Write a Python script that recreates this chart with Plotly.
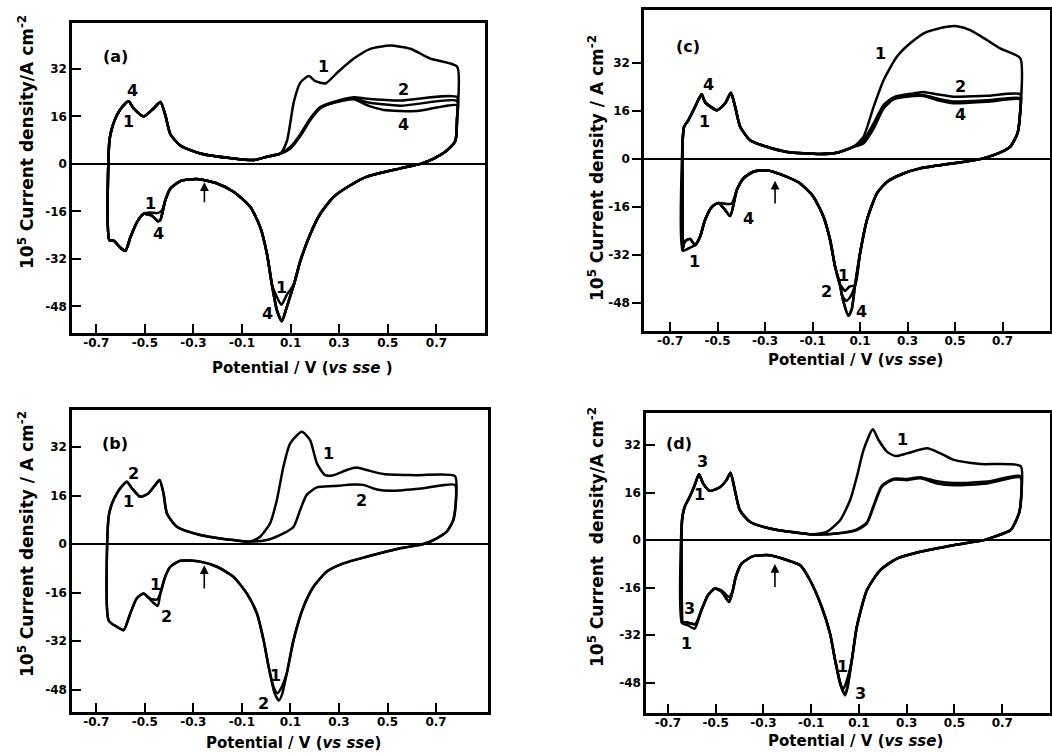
import plotly.graph_objects as go

W, H = 1052, 753
FONT = "DejaVu Sans"

# ---------------- panel (a) ----------------
a_left_up_x = [-0.646, -0.646, -0.635, -0.615, -0.587, -0.567, -0.546, -0.505, -0.464, -0.436, -0.416, -0.395, -0.354, -0.272, -0.135, -0.052, 0.003, 0.058]
a_left_up_y = [-25.7, 7.8, 12.2, 16.5, 19.8, 21.1, 18.7, 16.0, 18.7, 20.9, 16.5, 10.0, 6.2, 3.5, 1.8, 1.3, 2.4, 3.5]
a_up1_x = [0.085, 0.113, 0.14, 0.174, 0.202, 0.243, 0.291, 0.36, 0.428, 0.51, 0.593, 0.675, 0.785]
a_up1_y = [7.8, 20.9, 27.4, 29.6, 27.9, 27.1, 30.7, 35.5, 38.8, 39.9, 38.8, 35.5, 32.8]
a_up2_x = [0.099, 0.14, 0.181, 0.222, 0.277, 0.36, 0.414, 0.552, 0.785]
a_up2_y = [5.7, 10.0, 15.4, 19.2, 20.9, 22.5, 22.0, 21.4, 22.5]
a_up3_x = [0.099, 0.14, 0.181, 0.222, 0.277, 0.36, 0.414, 0.552, 0.785]
a_up3_y = [5.4, 9.7, 15.0, 19.0, 20.7, 22.1, 20.8, 19.6, 21.2]
a_up4_x = [0.099, 0.14, 0.181, 0.222, 0.277, 0.36, 0.414, 0.483, 0.62, 0.785]
a_up4_y = [5.2, 9.4, 14.8, 18.8, 20.6, 21.8, 19.8, 18.2, 17.8, 19.8]
a_rev_right_x = [0.785, 0.778, 0.744, 0.689, 0.634, 0.552, 0.414, 0.346, 0.277, 0.222, 0.181, 0.14, 0.113]
a_rev_right_y = [15.4, 7.8, 4.6, 1.8, 0.0, -1.5, -4.3, -7.2, -11.1, -16.8, -23.6, -32.7, -40.7]
a_pk1_x = [0.085, 0.062, 0.044]
a_pk1_y = [-44.0, -47.5, -45.0]
a_pk4_x = [0.085, 0.064, 0.044]
a_pk4_y = [-48.0, -53.0, -49.5]
a_rev_mid_x = [0.023, 0.003, -0.025, -0.066, -0.135, -0.203, -0.286, -0.354, -0.395, -0.416]
a_rev_mid_y = [-40.7, -30.5, -21.4, -14.5, -9.4, -6.6, -5.1, -5.8, -8.3, -12.3]
a_lr1_x = [-0.43, -0.45, -0.478]
a_lr1_y = [-15.7, -16.6, -16.4]
a_lr4_x = [-0.436, -0.447, -0.47]
a_lr4_y = [-18.8, -19.3, -17.5]
a_rev_left_x = [-0.505, -0.533, -0.56, -0.58, -0.601, -0.629, -0.646]
a_rev_left_y = [-16.8, -19.7, -24.8, -29.3, -28.2, -25.9, -25.7]

# ---------------- panel (b) ----------------
b_left_up_x = [-0.649, -0.649, -0.635, -0.615, -0.594, -0.574, -0.553, -0.519, -0.485, -0.457, -0.439, -0.423, -0.409, -0.368, -0.272, -0.135, -0.066]
b_left_up_y = [-25.2, 9.0, 13.4, 16.7, 19.1, 20.5, 18.4, 15.6, 16.7, 19.5, 21.1, 16.7, 10.1, 5.7, 3.0, 1.3, 0.8]
b_up1_x = [-0.025, 0.016, 0.044, 0.071, 0.099, 0.147, 0.181, 0.209, 0.243, 0.277, 0.332, 0.373, 0.414, 0.483, 0.62, 0.778]
b_up1_y = [2.4, 6.8, 14.5, 25.5, 33.2, 37.0, 34.3, 26.6, 22.7, 22.7, 24.4, 25.2, 24.4, 23.1, 22.7, 22.4]
b_up2_x = [0.003, 0.071, 0.113, 0.14, 0.167, 0.209, 0.277, 0.36, 0.401, 0.456, 0.524, 0.648, 0.778]
b_up2_y = [1.3, 3.5, 5.7, 11.2, 16.2, 18.7, 19.1, 19.6, 19.5, 18.0, 17.6, 18.4, 19.5]
b_rev_right_x = [0.782, 0.771, 0.744, 0.689, 0.648, 0.552, 0.414, 0.318, 0.25, 0.195, 0.154, 0.113, 0.085]
b_rev_right_y = [14.5, 7.9, 4.1, 1.3, 0.0, -1.4, -4.2, -6.4, -9.1, -14.1, -20.7, -31.6, -42.6]
b_pk1_x = [0.062, 0.046, 0.032]
b_pk1_y = [-47.5, -49.2, -47.5]
b_pk2_x = [0.066, 0.052, 0.034]
b_pk2_y = [-49.5, -51.6, -49.0]
b_rev_mid_x = [0.01, -0.011, -0.038, -0.08, -0.135, -0.203, -0.272, -0.354, -0.395, -0.416, -0.436]
b_rev_mid_y = [-40.4, -31.6, -22.9, -16.3, -10.8, -7.5, -5.8, -5.5, -7.5, -10.8, -16.3]
b_lr1_x = [-0.449, -0.478]
b_lr1_y = [-18.3, -18.0]
b_lr2_x = [-0.447, -0.47]
b_lr2_y = [-20.4, -19.0]
b_rev_left_x = [-0.505, -0.533, -0.56, -0.587, -0.615, -0.649]
b_rev_left_y = [-16.3, -17.9, -22.9, -28.4, -27.3, -25.2]

# ---------------- panel (c) ----------------
c_left_up_x = [-0.647, -0.647, -0.641, -0.623, -0.602, -0.581, -0.567, -0.553, -0.503, -0.468, -0.444, -0.426, -0.405, -0.363, -0.293, -0.208, -0.068, 0.002, 0.072]
c_left_up_y = [-30.5, 6.3, 10.8, 13.0, 16.3, 19.7, 21.6, 19.0, 16.3, 18.6, 22.1, 17.4, 10.8, 6.3, 4.1, 2.4, 1.7, 2.1, 4.1]
c_up1_x = [0.114, 0.157, 0.199, 0.255, 0.311, 0.381, 0.466, 0.508, 0.564, 0.634, 0.69, 0.775]
c_up1_y = [7.4, 17.4, 26.3, 34.1, 38.6, 42.4, 44.1, 44.3, 43.0, 39.7, 36.9, 33.6]
c_up2_x = [0.114, 0.157, 0.199, 0.241, 0.325, 0.367, 0.423, 0.494, 0.634, 0.775]
c_up2_y = [6.3, 11.9, 18.0, 20.6, 21.9, 22.4, 21.6, 20.8, 21.1, 21.6]
c_up3_x = [0.114, 0.157, 0.199, 0.241, 0.325, 0.367, 0.423, 0.494, 0.634, 0.775]
c_up3_y = [5.6, 10.8, 17.3, 20.1, 21.3, 21.4, 20.2, 19.2, 19.6, 20.3]
c_up4_x = [0.114, 0.157, 0.199, 0.241, 0.325, 0.367, 0.423, 0.494, 0.634, 0.775]
c_up4_y = [5.2, 10.2, 16.9, 19.9, 21.0, 21.0, 19.7, 18.6, 19.1, 19.9]
c_rev_right_x = [0.775, 0.763, 0.732, 0.662, 0.606, 0.494, 0.353, 0.283, 0.213, 0.171, 0.129, 0.1, 0.079]
c_rev_right_y = [16.3, 8.6, 4.1, 1.3, 0.0, -1.4, -3.1, -4.8, -7.6, -11.4, -20.3, -31.4, -42.0]
c_pk1_x = [0.055, 0.037, 0.022]
c_pk1_y = [-42.5, -43.9, -42.5]
c_pk2_x = [0.058, 0.042, 0.024]
c_pk2_y = [-46.0, -47.2, -45.5]
c_pk4_x = [0.065, 0.051, 0.03]
c_pk4_y = [-50.0, -52.2, -47.5]
c_rev_mid_x = [0.016, -0.005, -0.026, -0.054, -0.096, -0.152, -0.208, -0.293, -0.349, -0.391, -0.419]
c_rev_mid_y = [-42.0, -35.9, -27.0, -19.2, -12.6, -8.1, -5.9, -3.7, -4.2, -6.4, -10.3]
c_lr1_x = [-0.44, -0.461]
c_lr1_y = [-14.8, -15.0]
c_lr4_x = [-0.447, -0.468]
c_lr4_y = [-19.0, -17.0]
c_rev_left_x = [-0.496, -0.524, -0.553, -0.574, -0.595]
c_rev_left_y = [-14.6, -15.9, -20.3, -25.9, -28.7]
c_ll1_x = [-0.623, -0.647]
c_ll1_y = [-29.8, -30.5]
c_ll4_x = [-0.616, -0.637, -0.647]
c_ll4_y = [-26.6, -27.3, -30.0]

# ---------------- panel (d) ----------------
d_left_up_x = [-0.641, -0.641, -0.63, -0.609, -0.588, -0.57, -0.553, -0.525, -0.483, -0.455, -0.438, -0.42, -0.399, -0.357, -0.273, -0.133, -0.091]
d_left_up_y = [-27.9, 6.7, 11.2, 14.6, 18.5, 22.2, 19.1, 16.6, 17.8, 20.2, 22.7, 16.9, 10.1, 6.2, 3.9, 2.2, 1.9]
d_up1_x = [-0.035, 0.021, 0.063, 0.091, 0.119, 0.158, 0.182, 0.217, 0.252, 0.301, 0.385, 0.441, 0.497, 0.609, 0.777]
d_up1_y = [2.8, 6.7, 13.5, 21.3, 30.3, 37.3, 33.7, 29.8, 28.3, 29.2, 30.9, 29.2, 27.0, 25.6, 24.9]
d_up2_x = [0.007, 0.091, 0.133, 0.161, 0.196, 0.245, 0.301, 0.357, 0.427, 0.497, 0.637, 0.777]
d_up2_y = [2.2, 3.6, 5.9, 11.6, 18.4, 20.7, 20.6, 21.2, 19.8, 19.2, 19.7, 21.6]
d_up3_x = [0.007, 0.091, 0.133, 0.161, 0.196, 0.245, 0.301, 0.357, 0.427, 0.497, 0.637, 0.777]
d_up3_y = [2.2, 3.4, 5.6, 11.2, 18.0, 20.4, 20.2, 20.8, 19.1, 18.5, 19.1, 21.1]
d_rev_right_x = [0.78, 0.77, 0.735, 0.665, 0.623, 0.497, 0.357, 0.259, 0.189, 0.133, 0.091, 0.07]
d_rev_right_y = [15.7, 9.0, 3.4, 1.1, 0.0, -1.7, -3.9, -6.2, -10.1, -16.9, -29.2, -40.4]
d_pk1_x = [0.048, 0.035, 0.022]
d_pk1_y = [-47.5, -50.0, -48.5]
d_pk3_x = [0.052, 0.042, 0.026]
d_pk3_y = [-49.5, -52.2, -49.5]
d_rev_mid_x = [0.0, -0.021, -0.056, -0.105, -0.147, -0.203, -0.273, -0.343, -0.392, -0.416, -0.43]
d_rev_mid_y = [-40.4, -31.5, -22.5, -13.5, -8.4, -6.7, -5.1, -5.4, -7.9, -12.4, -17.4]
d_lr1_x = [-0.444, -0.476]
d_lr1_y = [-19.1, -16.9]
d_lr3_x = [-0.444, -0.476]
d_lr3_y = [-20.8, -17.3]
d_rev_left_x = [-0.504, -0.532, -0.56]
d_rev_left_y = [-16.3, -18.5, -23.6]
d_ll1_x = [-0.588, -0.616, -0.641]
d_ll1_y = [-29.8, -28.7, -27.9]
d_ll3_x = [-0.585, -0.616, -0.641]
d_ll3_y = [-28.3, -27.8, -27.6]

# ticks
x_tick_vals = [-0.7, -0.5, -0.3, -0.1, 0.1, 0.3, 0.5, 0.7]
x_tick_text = ["-0.7", "-0.5", "-0.3", "-0.1", "0.1", "0.3", "0.5", "0.7"]
y_tick_vals = [32, 16, 0, -16, -32, -48]
y_tick_text = ["32", "16", "0", "-16", "-32", "-48"]


def loop(*parts):
    xs, ys = [], []
    for px, py in parts:
        xs += px
        ys += py
    return xs, ys


panels = {
    "a": [
        loop((a_left_up_x, a_left_up_y), (a_up1_x, a_up1_y), (a_rev_right_x, a_rev_right_y), (a_pk1_x, a_pk1_y), (a_rev_mid_x, a_rev_mid_y), (a_lr1_x, a_lr1_y), (a_rev_left_x, a_rev_left_y)),
        loop((a_left_up_x, a_left_up_y), (a_up2_x, a_up2_y), (a_rev_right_x, a_rev_right_y), (a_pk4_x, a_pk4_y), (a_rev_mid_x, a_rev_mid_y), (a_lr4_x, a_lr4_y), (a_rev_left_x, a_rev_left_y)),
        loop((a_left_up_x, a_left_up_y), (a_up3_x, a_up3_y), (a_rev_right_x, a_rev_right_y), (a_pk4_x, a_pk4_y), (a_rev_mid_x, a_rev_mid_y), (a_lr4_x, a_lr4_y), (a_rev_left_x, a_rev_left_y)),
        loop((a_left_up_x, a_left_up_y), (a_up4_x, a_up4_y), (a_rev_right_x, a_rev_right_y), (a_pk4_x, a_pk4_y), (a_rev_mid_x, a_rev_mid_y), (a_lr4_x, a_lr4_y), (a_rev_left_x, a_rev_left_y)),
    ],
    "b": [
        loop((b_left_up_x, b_left_up_y), (b_up1_x, b_up1_y), (b_rev_right_x, b_rev_right_y), (b_pk1_x, b_pk1_y), (b_rev_mid_x, b_rev_mid_y), (b_lr1_x, b_lr1_y), (b_rev_left_x, b_rev_left_y)),
        loop((b_left_up_x, b_left_up_y), (b_up2_x, b_up2_y), (b_rev_right_x, b_rev_right_y), (b_pk2_x, b_pk2_y), (b_rev_mid_x, b_rev_mid_y), (b_lr2_x, b_lr2_y), (b_rev_left_x, b_rev_left_y)),
    ],
    "c": [
        loop((c_left_up_x, c_left_up_y), (c_up1_x, c_up1_y), (c_rev_right_x, c_rev_right_y), (c_pk1_x, c_pk1_y), (c_rev_mid_x, c_rev_mid_y), (c_lr1_x, c_lr1_y), (c_rev_left_x, c_rev_left_y), (c_ll1_x, c_ll1_y)),
        loop((c_left_up_x, c_left_up_y), (c_up2_x, c_up2_y), (c_rev_right_x, c_rev_right_y), (c_pk2_x, c_pk2_y), (c_rev_mid_x, c_rev_mid_y), (c_lr4_x, c_lr4_y), (c_rev_left_x, c_rev_left_y), (c_ll4_x, c_ll4_y)),
        loop((c_left_up_x, c_left_up_y), (c_up3_x, c_up3_y), (c_rev_right_x, c_rev_right_y), (c_pk4_x, c_pk4_y), (c_rev_mid_x, c_rev_mid_y), (c_lr4_x, c_lr4_y), (c_rev_left_x, c_rev_left_y), (c_ll4_x, c_ll4_y)),
        loop((c_left_up_x, c_left_up_y), (c_up4_x, c_up4_y), (c_rev_right_x, c_rev_right_y), (c_pk4_x, c_pk4_y), (c_rev_mid_x, c_rev_mid_y), (c_lr4_x, c_lr4_y), (c_rev_left_x, c_rev_left_y), (c_ll4_x, c_ll4_y)),
    ],
    "d": [
        loop((d_left_up_x, d_left_up_y), (d_up1_x, d_up1_y), (d_rev_right_x, d_rev_right_y), (d_pk1_x, d_pk1_y), (d_rev_mid_x, d_rev_mid_y), (d_lr1_x, d_lr1_y), (d_rev_left_x, d_rev_left_y), (d_ll1_x, d_ll1_y)),
        loop((d_left_up_x, d_left_up_y), (d_up2_x, d_up2_y), (d_rev_right_x, d_rev_right_y), (d_pk3_x, d_pk3_y), (d_rev_mid_x, d_rev_mid_y), (d_lr3_x, d_lr3_y), (d_rev_left_x, d_rev_left_y), (d_ll3_x, d_ll3_y)),
        loop((d_left_up_x, d_left_up_y), (d_up3_x, d_up3_y), (d_rev_right_x, d_rev_right_y), (d_pk3_x, d_pk3_y), (d_rev_mid_x, d_rev_mid_y), (d_lr3_x, d_lr3_y), (d_rev_left_x, d_rev_left_y), (d_ll3_x, d_ll3_y)),
    ],
}

# layout geometry in pixels: left, right, top, bottom ; ranges
geom = {
    "a": dict(px=(72, 485, 23, 333), xr=[-0.80, 0.90], yr=[-57.0, 47.5], ax="x", ay="y", yticks="inside"),
    "b": dict(px=(72, 488, 410, 712), xr=[-0.80, 0.914], yr=[-55.4, 44.2], ax="x2", ay="y2", yticks="inside"),
    "c": dict(px=(644, 1050, 10, 331), xr=[-0.81, 0.90], yr=[-57.3, 49.7], ax="x3", ay="y3", yticks="outside"),
    "d": dict(px=(646, 1050, 413, 713), xr=[-0.792, 0.90], yr=[-58.2, 42.8], ax="x4", ay="y4", yticks="inside"),
}

fig = go.Figure()
layout = dict(
    width=W, height=H, margin=dict(l=0, r=0, t=0, b=0),
    paper_bgcolor="white", plot_bgcolor="white", showlegend=False,
    font=dict(family=FONT, color="black"),
)

TICKFONT = dict(family=FONT, size=12, color="black", weight="bold")

for key, g in geom.items():
    for xs, ys in panels[key]:
        fig.add_trace(go.Scatter(
            x=xs, y=ys, mode="lines", xaxis=g["ax"], yaxis=g["ay"],
            line=dict(color="black", width=2.5, shape="spline", smoothing=0.6),
            hoverinfo="skip",
        ))
    l, r, t, b = g["px"]
    xname = "xaxis" + g["ax"][1:]
    yname = "yaxis" + g["ay"][1:]
    layout[xname] = dict(
        domain=[l / W, r / W], range=g["xr"], anchor=g["ay"],
        showline=True, mirror=True, linecolor="black", linewidth=2.5,
        ticks="inside", ticklen=9, tickwidth=1.6, tickcolor="black",
        tickvals=x_tick_vals, ticktext=x_tick_text, tickfont=TICKFONT,
        ticklabelstandoff=-3,
        showgrid=False, zeroline=False, fixedrange=True,
    )
    layout[yname] = dict(
        domain=[1 - b / H, 1 - t / H], range=g["yr"], anchor=g["ax"],
        showline=True, mirror=True, linecolor="black", linewidth=2.5,
        ticks=g["yticks"], ticklen=9, tickwidth=1.6, tickcolor="black",
        tickvals=y_tick_vals, ticktext=y_tick_text, tickfont=TICKFONT,
        showgrid=False, zeroline=True, zerolinecolor="black", zerolinewidth=1.8,
        fixedrange=True,
    )

fig.update_layout(**layout)

# curve labels: (panel, text, x, y)
label_panel = ["a", "a", "a", "a", "a", "a", "a", "a", "a",
               "b", "b", "b", "b", "b", "b", "b", "b",
               "c", "c", "c", "c", "c", "c", "c", "c", "c", "c",
               "d", "d", "d", "d", "d", "d", "d"]
label_text = ["1", "2", "4", "4", "1", "1", "4", "1", "4",
              "1", "2", "2", "1", "1", "2", "1", "2",
              "1", "2", "4", "4", "1", "4", "1", "1", "2", "4",
              "1", "3", "1", "3", "1", "1", "3"]
label_x = [0.236, 0.565, 0.565, -0.553, -0.567, -0.478, -0.443, 0.064, 0.003,
           0.257, 0.394, -0.546, -0.567, -0.457, -0.409, 0.037, -0.011,
           0.185, 0.522, 0.522, -0.539, -0.555, -0.37, -0.599, 0.03, -0.043, 0.107,
           0.284, -0.556, -0.567, -0.609, -0.623, 0.032, 0.105]
label_y = [32.8, 25.2, 13.3, 24.7, 14.3, -13.4, -23.6, -41.8, -50.3,
           29.9, 14.5, 23.3, 14.0, -13.5, -24.0, -43.2, -52.5,
           35.2, 24.3, 14.7, 24.7, 12.4, -19.8, -34.2, -38.7, -44.2, -50.9,
           33.9, 26.4, 15.2, -23.0, -34.8, -42.7, -51.7]

panel_titles = {"a": ("(a)", -0.622, 36.3), "b": ("(b)", -0.622, 33.2),
                "c": ("(c)", -0.623, 37.4), "d": ("(d)", -0.652, 32.6)}
arrow_x = {"a": -0.255, "b": -0.255, "c": -0.258, "d": -0.252}
arrow_y0 = {"a": -13.4, "b": -15.2, "c": -15.3, "d": -16.3}
arrow_y1 = {"a": -6.2, "b": -7.0, "c": -7.2, "d": -8.0}

LABFONT = dict(family=FONT, size=16, color="black", weight="bold")
ann = []
for p, t, x, y in zip(label_panel, label_text, label_x, label_y):
    g = geom[p]
    ann.append(dict(text=t, x=x, y=y, xref=g["ax"], yref=g["ay"], showarrow=False, font=LABFONT))
for p, (t, x, y) in panel_titles.items():
    g = geom[p]
    ann.append(dict(text=t, x=x, y=y, xref=g["ax"], yref=g["ay"], showarrow=False, font=LABFONT))
for p in geom:
    g = geom[p]
    ann.append(dict(text="", x=arrow_x[p], y=arrow_y1[p], xref=g["ax"], yref=g["ay"],
                    ax=arrow_x[p], ay=arrow_y0[p], axref=g["ax"], ayref=g["ay"],
                    showarrow=True, arrowhead=2, arrowsize=1.1, arrowwidth=1.6, arrowcolor="black"))

# axis titles (pixel positions)
ytitle = {"a": (26, 142, "10<sup>5</sup> Current density/A cm<sup>-2</sup>"),
          "b": (26, 544, "10<sup>5</sup> Current density / A cm<sup>-2</sup>"),
          "c": (596, 168, "10<sup>5</sup> Current density / A cm<sup>-2</sup>"),
          "d": (596, 537, "10<sup>5</sup> Current  density/A cm<sup>-2</sup>")}
xtitle = {"a": (302, 368, "Potential / V (<i>vs sse</i> )"),
          "b": (293, 743, "Potential / V (<i>vs sse</i>)"),
          "c": (855, 360, "Potential / V (<i>vs sse</i>)"),
          "d": (855, 741, "Potential / V (<i>vs sse</i>)")}
YTITLEFONT = dict(family=FONT, size=17, color="black", weight="bold")
XTITLEFONT = dict(family=FONT, size=15, color="black", weight="bold")
for p, (x, y, t) in ytitle.items():
    ann.append(dict(text=t, x=x / W, y=1 - y / H, xref="paper", yref="paper", showarrow=False,
                    textangle=-90, xanchor="center", yanchor="middle", font=YTITLEFONT))
for p, (x, y, t) in xtitle.items():
    ann.append(dict(text=t, x=x / W, y=1 - y / H, xref="paper", yref="paper", showarrow=False,
                    xanchor="center", yanchor="middle", font=XTITLEFONT))

fig.update_layout(annotations=ann)
fig.write_html("out.html")
